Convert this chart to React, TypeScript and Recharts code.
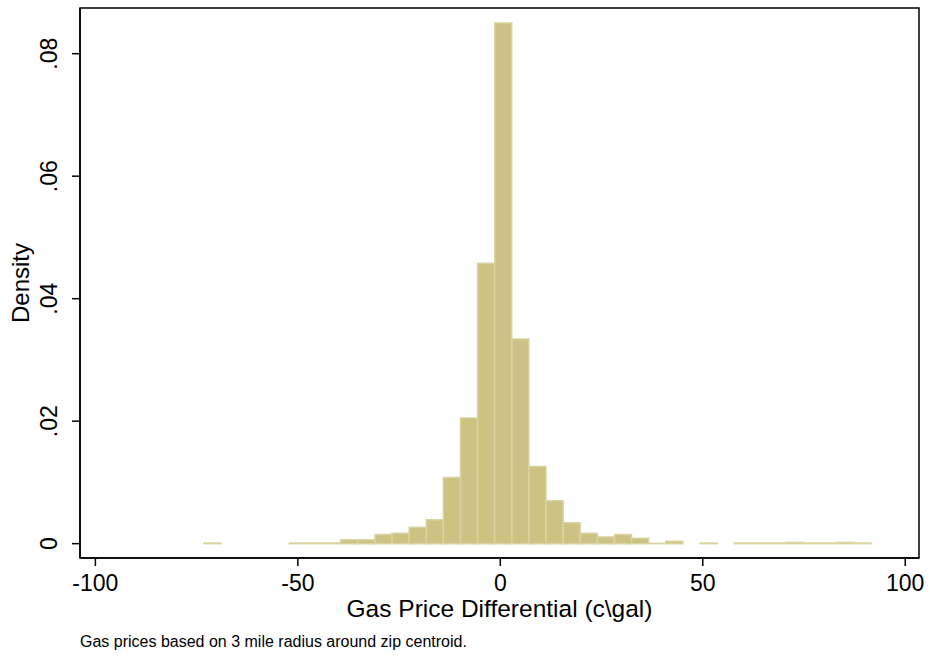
import React from 'react';
import { ComposedChart, Bar, XAxis, YAxis, ReferenceArea, Label } from 'recharts';

// histogram bins (centre of each bin, c/gal) and their density
const binCenters = [
    -71.09, -66.86, -62.64, -58.41, -54.19, -49.96, -45.74, -41.51, -37.29, -33.06,
    -28.84, -24.61, -20.39, -16.16, -11.94, -7.71, -3.49, 0.74, 4.96, 9.19,
    13.41, 17.64, 21.86, 26.09, 30.31, 34.54, 38.76, 42.99, 47.21, 51.44,
    55.66, 59.89, 64.11, 68.34, 72.56, 76.79, 81.01, 85.24, 89.46,
];
const densities = [
    0.0001, 0, 0, 0, 0, 0.0001, 0.0001, 0.0001, 0.00065, 0.00065,
    0.0015, 0.0017, 0.0027, 0.0039, 0.0108, 0.0205, 0.0458, 0.085, 0.0334, 0.0126,
    0.007, 0.0034, 0.0017, 0.0011, 0.0015, 0.0009, 0.00005, 0.0004, 0, 0.0001,
    0, 0.0001, 0.0001, 0.0001, 0.0002, 0.0001, 0.0001, 0.0002, 0.0001,
];
const xTicks = [-100, -50, 0, 50, 100];
const yTicks = [0, 0.02, 0.04, 0.06, 0.08];

const xDomain: [number, number] = [-103.8, 103.4];
const yDomain: [number, number] = [-0.00234, 0.08746];

const data = binCenters.map((x, i) => ({ x, density: densities[i] }));

const FONT = '"Liberation Sans", Arial, Helvetica, sans-serif';

const fmtY = (v: number) => (v === 0 ? '0' : String(v).replace(/^0\./, '.'));

const XTick = (props: any) => {
    const { x, y, payload } = props;
    return (
        <text x={x} y={y + 22.5} textAnchor="middle" fontSize={23} fontFamily={FONT} fill="#000">
            {payload.value}
        </text>
    );
};

const YTick = (props: any) => {
    const { x, y, payload } = props;
    const bx = x - 13;
    return (
        <text
            x={bx}
            y={y}
            textAnchor="middle"
            fontSize={23}
            fontFamily={FONT}
            fill="#000"
            transform={`rotate(-90, ${bx}, ${y})`}
        >
            {fmtY(payload.value)}
        </text>
    );
};

const XTitle = (props: any) => {
    const vb = props.viewBox || { x: 80, y: 558, width: 839 };
    return (
        <g>
            <text x={vb.x + vb.width / 2} y={vb.y + 58.5} textAnchor="middle" fontSize={24.5} fontFamily={FONT} fill="#000">
                Gas Price Differential (c\gal)
            </text>
            <text x={vb.x} y={vb.y + 88.5} textAnchor="start" fontSize={16} fontFamily={FONT} fill="#000">
                Gas prices based on 3 mile radius around zip centroid.
            </text>
        </g>
    );
};

const YTitle = (props: any) => {
    const vb = props.viewBox || { x: 0, y: 8, height: 550 };
    const cx = vb.x + 29;
    const cy = vb.y + vb.height / 2;
    return (
        <text
            x={cx}
            y={cy}
            textAnchor="middle"
            fontSize={24}
            fontFamily={FONT}
            fill="#000"
            transform={`rotate(-90, ${cx}, ${cy})`}
        >
            Density
        </text>
    );
};

export default function App() {
    return (
        <div style={{ width: 930, height: 656, background: '#fff' }}>
            <style>{'body{margin:0}'}</style>
            <ComposedChart
                width={930}
                height={656}
                data={data}
                margin={{ top: 8, right: 11, bottom: 0, left: 0 }}
                barCategoryGap={0}
                barGap={0}
            >
                <XAxis
                    dataKey="x"
                    type="number"
                    domain={xDomain}
                    ticks={xTicks}
                    allowDataOverflow
                    height={98}
                    tickSize={8}
                    tick={<XTick />}
                    axisLine={{ stroke: '#000', strokeWidth: 1.5 }}
                    tickLine={{ stroke: '#000', strokeWidth: 1.5 }}
                >
                    <Label content={<XTitle />} />
                </XAxis>
                <YAxis
                    type="number"
                    domain={yDomain}
                    ticks={yTicks}
                    allowDataOverflow
                    width={80}
                    tickSize={8}
                    tick={<YTick />}
                    axisLine={{ stroke: '#000', strokeWidth: 1.5 }}
                    tickLine={{ stroke: '#000', strokeWidth: 1.5 }}
                >
                    <Label content={<YTitle />} />
                </YAxis>
                <Bar
                    dataKey="density"
                    fill="#CBC283"
                    stroke="#D9D39F"
                    strokeWidth={1.5}
                    isAnimationActive={false}
                />
                <ReferenceArea
                    x1={xDomain[0]}
                    x2={xDomain[1]}
                    y1={yDomain[0]}
                    y2={yDomain[1]}
                    fill="none"
                    stroke="#000"
                    strokeWidth={1.5}
                    ifOverflow="visible"
                />
            </ComposedChart>
        </div>
    );
}
